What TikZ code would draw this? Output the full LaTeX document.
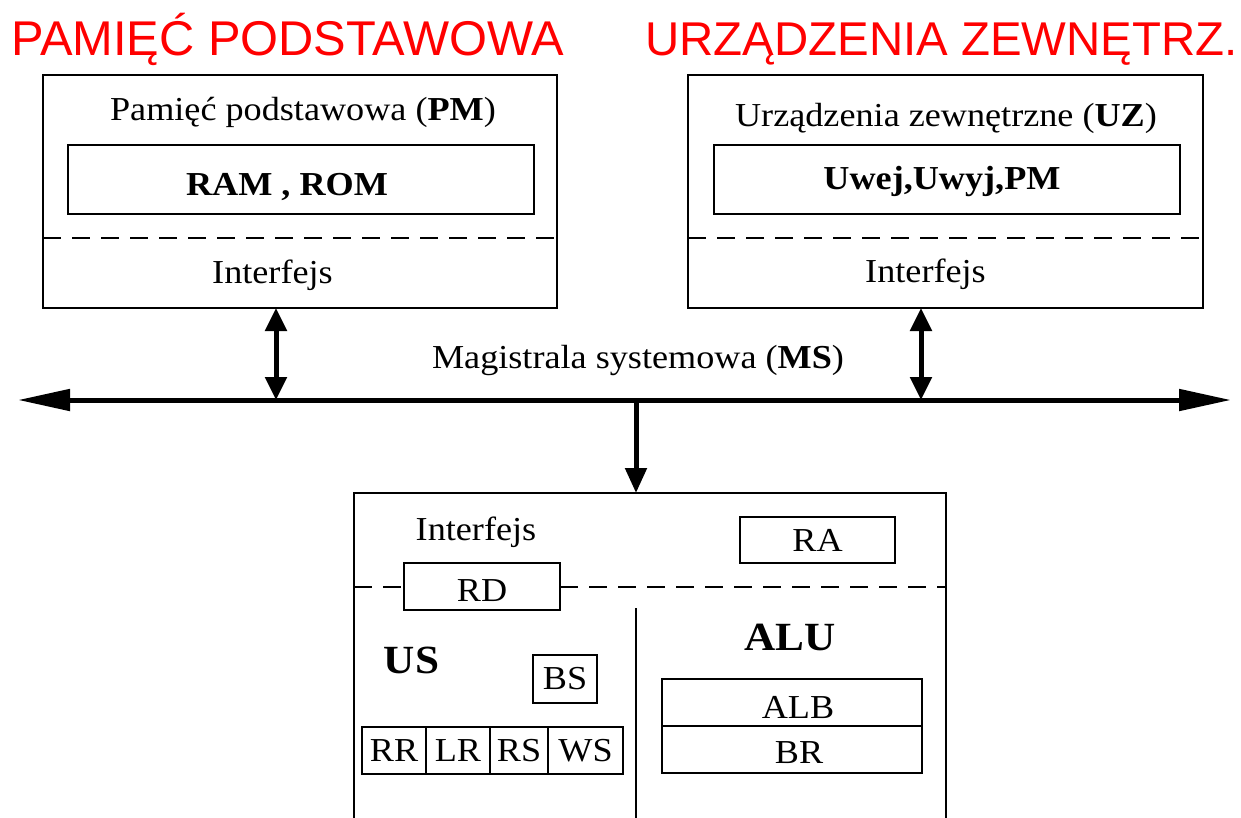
\documentclass[tikz,border=0pt]{standalone}
\usepackage{fontspec}
\setmainfont[FakeStretch=1.08]{Liberation Serif}
\newfontfamily\titlefont{Liberation Sans}
\usetikzlibrary{arrows.meta}
\begin{document}
\begin{tikzpicture}[x=1pt,y=-1pt,
  txt/.style={font=\fontsize{33.5}{38}\selectfont, inner sep=0pt, anchor=base},
  bigtxt/.style={font=\fontsize{40}{46}\selectfont\bfseries, inner sep=0pt, anchor=base},
  ttl/.style={font=\titlefont\fontsize{48.8}{54}\selectfont, text=red, inner sep=0pt, anchor=base west},
  box/.style={draw, line width=2.3pt, inner sep=0pt, outer sep=0pt},
  cell/.style={box, font=\fontsize{33.5}{38}\selectfont},
  dsh/.style={line width=2.8pt, dash pattern=on 18pt off 11pt},
  dbl/.style={line width=5pt, {Triangle[length=23pt,width=21pt]}-{Triangle[length=23pt,width=21pt]}},
  down/.style={line width=5pt, -{Triangle[length=25pt,width=21pt]}},
  bus/.style={line width=5pt, {Triangle[length=52pt,width=21pt]}-{Triangle[length=52pt,width=21pt]}}
]
\useasboundingbox (0,0) rectangle (1241,817);
\fill[white] (0,0) rectangle (1241,817);

% titles
\node[ttl] (t1) at (11,55) {PAMIĘĆ PODSTAWOWA};
\node[ttl, anchor=base east, font=\titlefont\fontsize{47.4}{54}\selectfont] (t2) at (1238,55) {URZĄDZENIA ZEWNĘTRZ.};

% PM
\node[box, minimum width=514pt, minimum height=233pt] (pm) at (300,191.5) {};
\node[box, line width=1.8pt, minimum width=466pt, minimum height=69pt] (pmin) at (301,179.5) {};
\node[txt] (pmt) at (303,120) {Pamięć podstawowa (\textbf{PM})};
\node[txt, font=\fontsize{33.5}{38}\selectfont\bfseries] (pmr) at (287,195) {RAM , ROM};
\node[txt] (pmi) at (272.5,283) {Interfejs};
\coordinate (d1) at (0,238);
\draw[dsh] (pm.west |- d1) -- (pm.east |- d1);

% UZ
\node[box, minimum width=515pt, minimum height=233pt] (uz) at (945.5,191.5) {};
\node[box, line width=1.8pt, minimum width=466pt, minimum height=69pt] (uzin) at (947,179.5) {};
\node[txt] (uzt) at (946,126) {Urządzenia zewnętrzne (\textbf{UZ})};
\node[txt, font=\fontsize{33.5}{38}\selectfont\bfseries] (uzr) at (942,189) {Uwej,Uwyj,PM};
\node[txt] (uzi) at (925.5,282) {Interfejs};
\draw[dsh] (uz.west |- d1) -- (uz.east |- d1);

% bus
\coordinate (busL) at (18,400);
\coordinate (busR) at (1231,400);
\draw[bus] (busL) -- (busR);
\node[txt] (ms) at (638,368) {Magistrala systemowa (\textbf{MS})};

\coordinate (a1) at (276,400);
\coordinate (a2) at (921,400);
\coordinate (c1) at (636,400);
\draw[dbl] (a1) -- (a1 |- pm.south);
\draw[dbl] (a2) -- (a2 |- uz.south);

% CPU
\node[box, line width=2.4pt, minimum width=592pt, minimum height=360pt] (cpu) at (650,673) {};
\draw[down] (c1) -- (c1 |- cpu.north);
\node[txt] (cpi) at (476,540) {Interfejs};
\node[cell, minimum width=155pt, minimum height=46pt] (ra) at (817.5,540) {RA};
\node[box, minimum width=156pt, minimum height=47pt] (rd) at (482,586.5) {};
\node[txt] (rdt) at (482,601) {RD};
\coordinate (d2) at (0,587);
\draw[dsh] (cpu.west |- d2) -- (rd.west |- d2);
\draw[dsh] (rd.east |- d2) -- (cpu.east |- d2);
\coordinate (dv) at (636,608);
\draw[line width=2.3pt] (dv) -- (dv |- cpu.south);

% US
\node[bigtxt] (us) at (411.5,673) {US};
\node[cell, minimum width=64pt, minimum height=48pt] (bs) at (565,679) {BS};
\node[cell, minimum width=64pt, minimum height=47pt] (rr) at (394,750.5) {RR};
\node[cell, minimum width=64pt, minimum height=47pt] (lr) at (458,750.5) {LR};
\node[cell, minimum width=58pt, minimum height=47pt] (rs) at (519,750.5) {RS};
\node[cell, minimum width=75pt, minimum height=47pt] (ws) at (585.5,750.5) {WS};

% ALU
\node[bigtxt] (alu) at (790,650) {ALU};
\node[box, minimum width=260pt, minimum height=47pt] (alb) at (792,702.5) {};
\node[box, minimum width=260pt, minimum height=47pt] (br) at (792,749.5) {};
\node[txt] (albt) at (798,718) {ALB};
\node[txt] (brt) at (799,763) {BR};
\end{tikzpicture}
\end{document}
